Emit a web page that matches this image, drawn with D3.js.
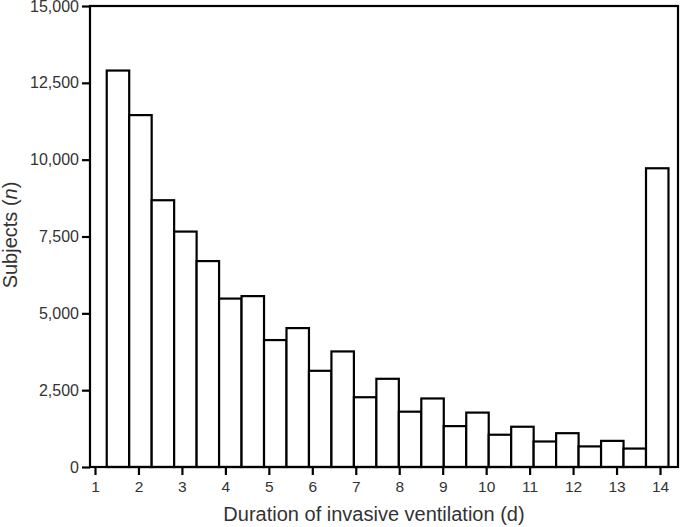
<!DOCTYPE html>
<html>
<head>
<meta charset="utf-8">
<script src="https://cdn.jsdelivr.net/npm/d3@7"></script>
<style>
  body { margin: 0; background: #fff; }
  text { font-family: "Liberation Sans", Arial, sans-serif; fill: #333; }
</style>
</head>
<body>
<svg id="chart" width="680" height="527"></svg>
<script>
// histogram bins (days): first lower edge and bin width
const binStart = 1.27;
const binWidth = 0.517;
// subjects per bin
const counts = [12900, 11450, 8680, 7660, 6700, 5480, 5560, 4130, 4520, 3130,
  3760, 2270, 2870, 1800, 2230, 1330, 1770, 1050, 1310, 830,
  1100, 670, 850, 600, 9720];
const xTicks = [1, 2, 3, 4, 5, 6, 7, 8, 9, 10, 11, 12, 13, 14];
const yTicks = [0, 2500, 5000, 7500, 10000, 12500, 15000];
const xTitle = 'Duration of invasive ventilation (d)';

const svg = d3.select('#chart');
const plot = { left: 90, right: 678, top: 6, bottom: 467 };

const x = d3.scaleLinear().domain([1, 14]).range([95, 660]);
const y = d3.scaleLinear().domain([0, 15000]).range([plot.bottom, plot.top]);

const bins = counts.map((c, i) => ({
  x0: binStart + i * binWidth,
  x1: binStart + (i + 1) * binWidth,
  n: c,
}));

// bars
svg.append('g')
  .selectAll('rect')
  .data(bins)
  .join('rect')
  .attr('x', d => x(d.x0))
  .attr('y', d => y(d.n))
  .attr('width', d => x(d.x1) - x(d.x0))
  .attr('height', d => y(0) - y(d.n))
  .attr('fill', '#fff')
  .attr('stroke', '#000')
  .attr('stroke-width', 2.2);

// frame
svg.append('rect')
  .attr('x', plot.left)
  .attr('y', plot.top)
  .attr('width', plot.right - plot.left)
  .attr('height', plot.bottom - plot.top)
  .attr('fill', 'none')
  .attr('stroke', '#000')
  .attr('stroke-width', 2.2);

// y axis
const yAxis = svg.append('g')
  .attr('transform', `translate(${plot.left},0)`)
  .call(d3.axisLeft(y).tickValues(yTicks).tickSize(8).tickPadding(3).tickFormat(d3.format(',')));
yAxis.select('.domain').remove();
yAxis.selectAll('line').attr('stroke', '#000').attr('stroke-width', 2.2);
yAxis.selectAll('text')
  .style('font-size', '16px')
  .attr('fill', '#333');

// x axis
const xAxis = svg.append('g')
  .attr('transform', `translate(0,${plot.bottom})`)
  .call(d3.axisBottom(x).tickValues(xTicks).tickSize(8).tickPadding(6));
xAxis.select('.domain').remove();
xAxis.selectAll('line').attr('stroke', '#000').attr('stroke-width', 2.2);
xAxis.selectAll('text')
  .style('font-size', '15.5px')
  .attr('fill', '#333');

// axis titles
svg.append('text')
  .attr('x', 374)
  .attr('y', 521)
  .attr('text-anchor', 'middle')
  .style('font-size', '20px')
  .text(xTitle);

const yTitle = svg.append('text')
  .attr('transform', 'translate(17,235) rotate(-90)')
  .attr('text-anchor', 'middle')
  .style('font-size', '20px');
yTitle.append('tspan').text('Subjects (');
yTitle.append('tspan').style('font-style', 'italic').text('n');
yTitle.append('tspan').text(')');
</script>
</body>
</html>
